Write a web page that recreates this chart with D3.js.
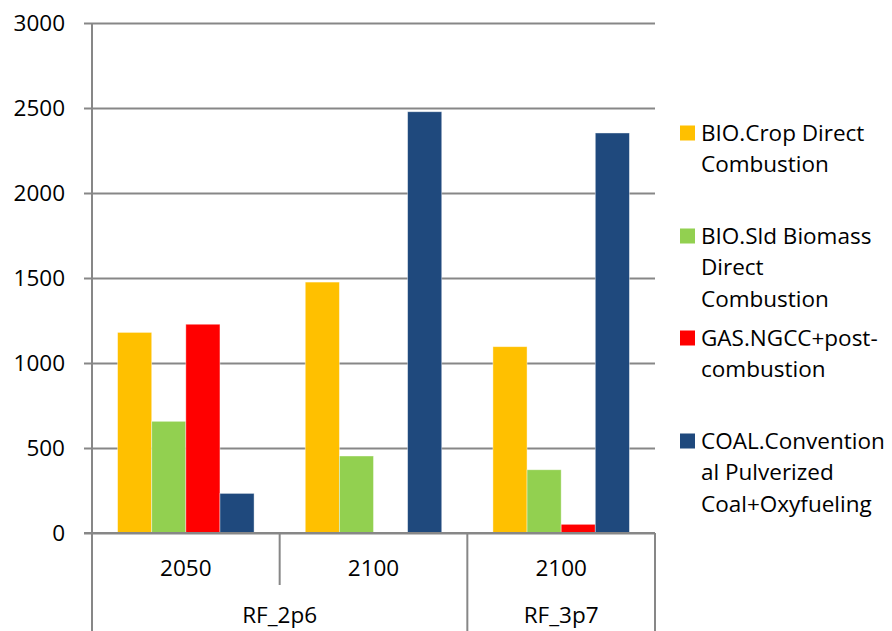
<!DOCTYPE html>
<html>
<head>
<meta charset="utf-8">
<script src="https://d3js.org/d3.v7.min.js"></script>
<style>
  html, body { margin: 0; padding: 0; background: #fff; }
  svg { display: block; }
  text { font-family: "Open Sans", "Liberation Sans", sans-serif; fill: #000; }
</style>
</head>
<body>
<svg id="chart" width="892" height="631"></svg>
<script>
// ---- data ----
const years = ["2050", "2100", "2100"];
const scenarios = ["RF_2p6", "RF_3p7"];
const scenarioSpan = [[0, 1], [2, 2]]; // category index span of each scenario
const seriesNames = [
  "BIO.Crop Direct Combustion",
  "BIO.Sld Biomass Direct Combustion",
  "GAS.NGCC+post-combustion",
  "COAL.Conventional Pulverized Coal+Oxyfueling"
];
const legendLines = [
  ["BIO.Crop Direct", "Combustion"],
  ["BIO.Sld Biomass", "Direct", "Combustion"],
  ["GAS.NGCC+post-", "combustion"],
  ["COAL.Convention", "al Pulverized", "Coal+Oxyfueling"]
];
const bioCrop   = [1180, 1476, 1096];
const bioSld    = [657, 453, 372];
const gasNgcc   = [1228, 0, 51];
const coalConv  = [233, 2478, 2353];
const seriesValues = [bioCrop, bioSld, gasNgcc, coalConv];
const colors = ["#FFC000", "#92D050", "#FF0000", "#1F497D"];
const yTicks = [0, 500, 1000, 1500, 2000, 2500, 3000];

// ---- layout ----
const svg = d3.select("#chart");
const pLeft = 92, pRight = 655, pTop = 23, pBottom = 533;
const gridColor = "#878787";
const fontSize = 22.5;

const y = d3.scaleLinear().domain([0, 3000]).range([pBottom, pTop]);
const x0 = d3.scaleBand().domain(d3.range(years.length)).range([pLeft, pRight]).padding(0);
const x1 = d3.scaleBand().domain(d3.range(seriesNames.length))
  .range([0, x0.bandwidth()]).paddingInner(0).paddingOuter(0.75);

// gridlines + y labels via axis
const yAxis = d3.axisLeft(y).tickValues(yTicks).tickFormat(d3.format("d")).tickSize(8).tickPadding(19);
const gy = svg.append("g").attr("transform", `translate(${pLeft},0)`).call(yAxis);
gy.select(".domain").remove();
gy.selectAll(".tick line").attr("stroke", gridColor).attr("stroke-width", 2)
  .attr("x1", -8).attr("x2", pRight - pLeft);
gy.selectAll(".tick text").attr("font-size", fontSize)
  .attr("font-family", "'Open Sans', sans-serif").attr("fill", "#000").attr("dy", "0.35em");

// bars
const groups = svg.append("g").selectAll("g")
  .data(years.map((yr, i) => i))
  .join("g")
  .attr("transform", i => `translate(${x0(i)},0)`);
groups.selectAll("rect")
  .data(i => seriesValues.map((vals, s) => ({ s, v: vals[i] })).filter(d => d.v > 0))
  .join("rect")
  .attr("x", d => x1(d.s))
  .attr("width", x1.bandwidth())
  .attr("y", d => y(d.v))
  .attr("height", d => y(0) - y(d.v))
  .attr("fill", d => colors[d.s])
  .attr("stroke", "rgba(255,255,255,0.5)")
  .attr("stroke-width", 0.8);

// axes lines
svg.append("line").attr("x1", pLeft).attr("x2", pLeft).attr("y1", pTop).attr("y2", 631)
  .attr("stroke", gridColor).attr("stroke-width", 2);
svg.append("line").attr("x1", pLeft - 8).attr("x2", pRight).attr("y1", pBottom).attr("y2", pBottom)
  .attr("stroke", gridColor).attr("stroke-width", 2);

// category separators
const bounds = d3.range(years.length + 1).map(i => pLeft + i * x0.step());
const scenarioBounds = new Set([0, ...scenarioSpan.map(s => s[1] + 1)]);
bounds.forEach((bx, i) => {
  if (i === 0) return;
  const longLine = scenarioBounds.has(i);
  svg.append("line").attr("x1", bx).attr("x2", bx).attr("y1", pBottom)
    .attr("y2", longLine ? 631 : 585)
    .attr("stroke", gridColor).attr("stroke-width", 2);
});

// year labels
svg.append("g").selectAll("text").data(years).join("text")
  .attr("x", (d, i) => x0(i) + x0.bandwidth() / 2)
  .attr("y", 568).attr("dy", "0.35em")
  .attr("text-anchor", "middle").attr("font-size", fontSize).text(d => d);

// scenario labels
svg.append("g").selectAll("text").data(scenarios).join("text")
  .attr("x", (d, i) => (x0(scenarioSpan[i][0]) + x0(scenarioSpan[i][1]) + x0.bandwidth()) / 2)
  .attr("y", 615).attr("dy", "0.35em")
  .attr("text-anchor", "middle").attr("font-size", fontSize).text(d => d);

// legend
const legendTop = [133, 236, 338, 441];
const lineH = 31.5;
const lg = svg.append("g");
legendLines.forEach((lines, i) => {
  lg.append("rect").attr("x", 680).attr("y", legendTop[i] - 7.5)
    .attr("width", 15).attr("height", 15).attr("fill", colors[i]);
  lines.forEach((ln, j) => {
    lg.append("text").attr("x", 701).attr("y", legendTop[i] + j * lineH)
      .attr("dy", "0.35em").attr("font-size", fontSize).text(ln);
  });
});
</script>
</body>
</html>
